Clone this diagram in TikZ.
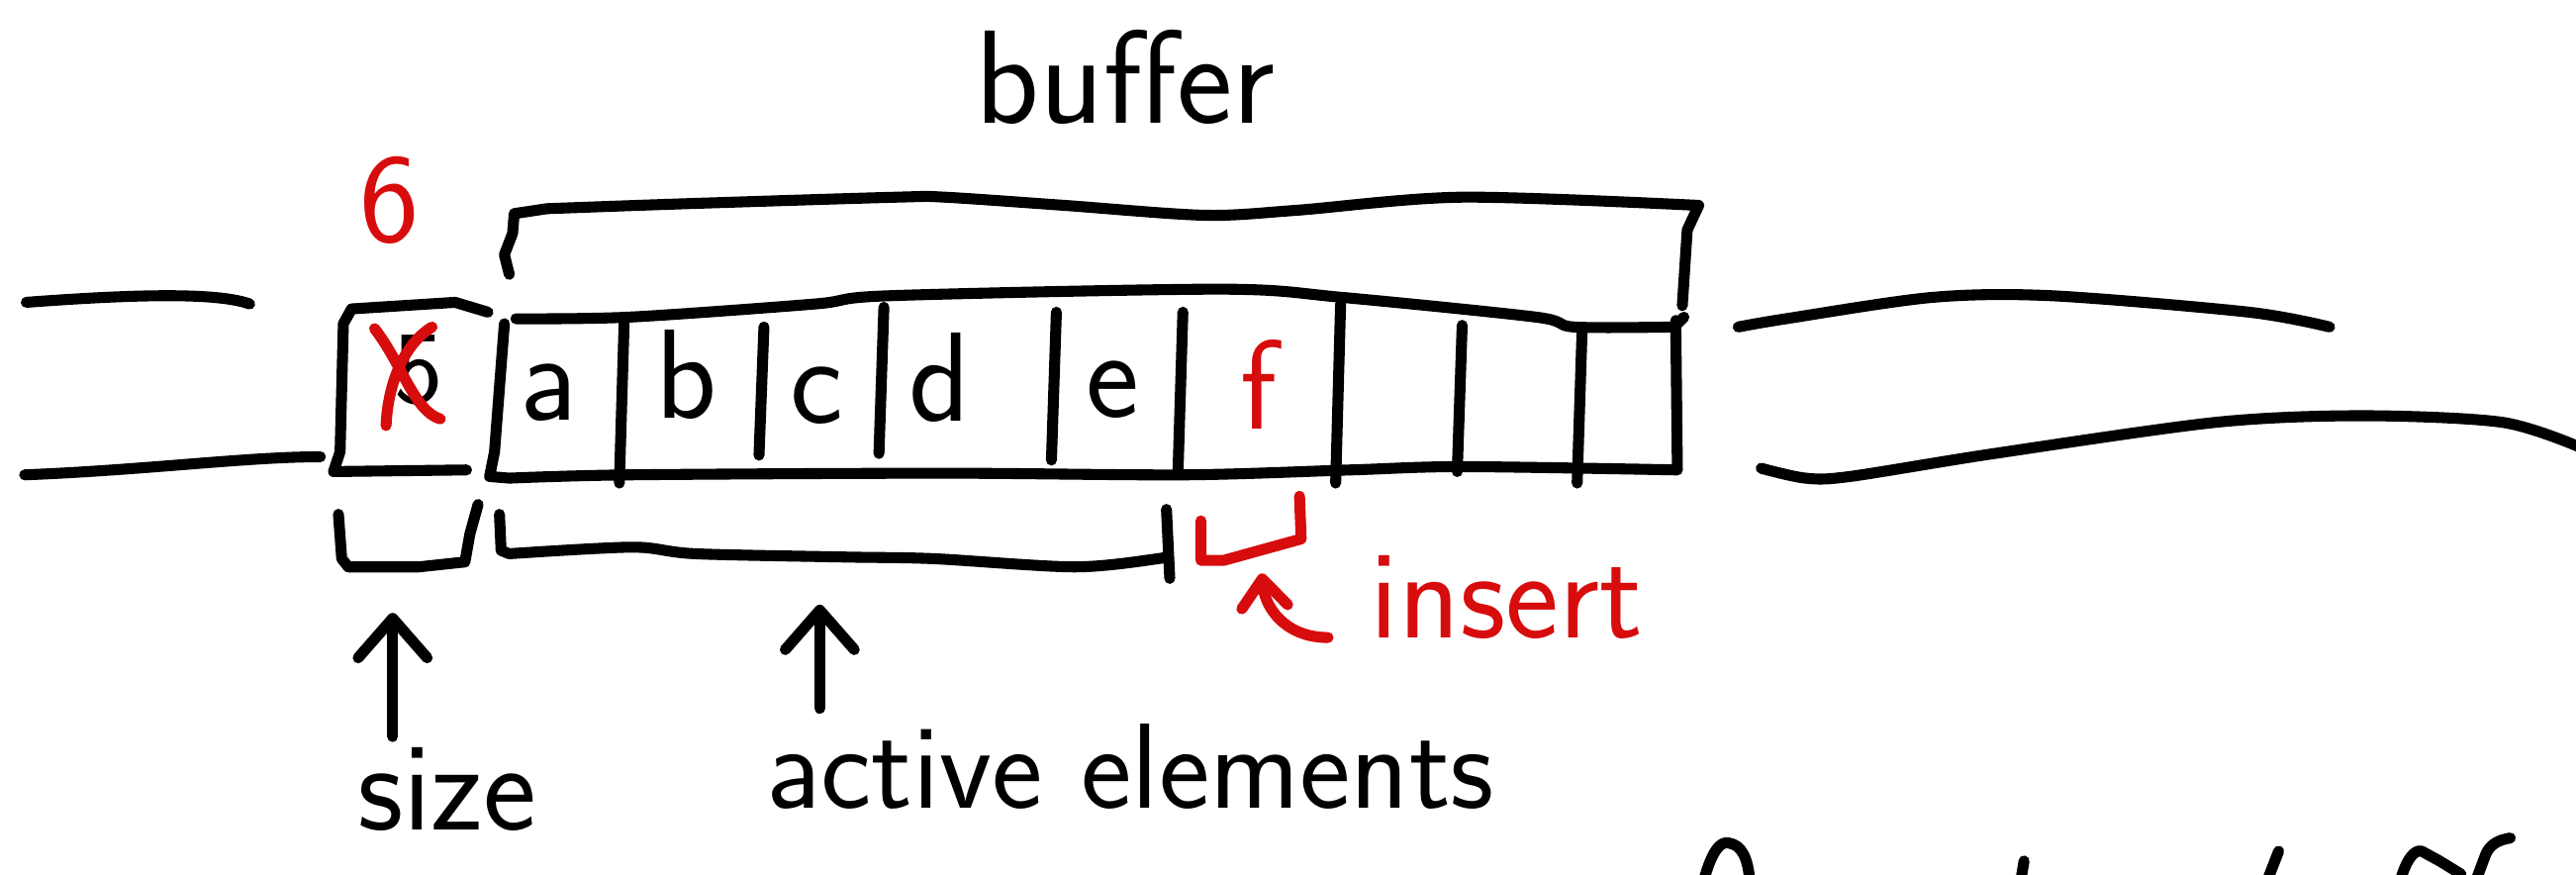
\documentclass[tikz,border=0pt]{standalone}
\usepackage{tikz}
\usetikzlibrary{arrows.meta, calc, positioning}
\definecolor{inkred}{RGB}{215,12,12}
\tikzset{
  pen/.style={line width=1.9pt, line cap=round, line join=round},
  redpen/.style={pen, draw=inkred},
  hand/.style={font=\sffamily\fontsize{#1}{#1}\selectfont, inner sep=0pt},
  hand/.default=22,
  barb/.style={-{Straight Barb[round, length=2.4mm, width=4.2mm]}},
  smallbarb/.style={-{Straight Barb[round, length=1.7mm, width=2.8mm]}},
}

\begin{document}
\begin{tikzpicture}[x=1cm, y=-1cm]
  \useasboundingbox (0,0) rectangle (15.68,5.32);

  % walls around the buffer
  \draw[pen] (0.16,1.84) .. controls (0.7,1.80) and (1.3,1.77) .. (1.52,1.85);
  \draw[pen] (0.15,2.89) .. controls (0.9,2.86) and (1.5,2.78) .. (1.95,2.78);
  \draw[pen] plot[smooth] coordinates {(10.58,1.99) (10.87,1.94) (11.76,1.81) (12.49,1.80) (13.69,1.90) (14.18,1.99)};
  \draw[pen] plot[smooth] coordinates {(10.72,2.85) (10.99,2.91) (11.26,2.90) (12.14,2.76) (13.49,2.57) (14.38,2.53) (15.23,2.57) (15.70,2.72)};

  % size cell
  \draw[pen] (2.97,1.90) -- (2.77,1.84) -- (2.14,1.88) -- (2.09,1.97) -- (2.07,2.75) -- (2.03,2.87) -- (2.84,2.86);
  \node[hand=18] (oldsize) at (2.55,2.25) {5};
  \draw[redpen] (2.28,2.00) .. controls (2.45,2.22) and (2.52,2.50) .. (2.68,2.55);
  \draw[redpen] (2.63,1.99) .. controls (2.45,2.10) and (2.36,2.35) .. (2.35,2.59);
  \node[hand, text=inkred] (newsize) at (2.37,1.22) {6};

  % the array
  \draw[pen] plot[smooth] coordinates {(3.14,1.94) (3.83,1.93) (4.96,1.85) (5.41,1.80) (7.44,1.76) (8.17,1.81) (9.35,1.93) (9.58,1.99) (10.19,1.99)} -- (10.25,1.93);
  \draw[pen] (3.07,1.97) -- (3.01,2.75) -- (2.98,2.90) -- plot[smooth] coordinates {(3.10,2.91) (3.83,2.89) (5.75,2.88) (7.21,2.89) (8.22,2.86) (8.90,2.84) (10.21,2.86)} -- (10.20,1.95);
  \foreach \x/\t/\b in {3.80/1.93/2.94, 4.65/1.99/2.77, 5.38/1.87/2.76, 6.43/1.90/2.80,
                        7.20/1.90/2.88, 8.16/1.85/2.94, 8.90/1.98/2.87, 9.63/2.01/2.94}
    \draw[pen] (\x,\t) -- (\x-0.03,\b);
  \foreach \c/\x/\y in {a/3.34/2.39, b/4.18/2.28, c/4.97/2.41, d/5.72/2.30, e/6.77/2.37}
    \node[hand] (cell-\c) at (\x,\y) {\c};
  \node[hand, text=inkred] (cell-f) at (7.66,2.34) {f};

  % buffer bracket
  \draw[pen] (3.10,1.67) -- (3.07,1.55) -- (3.12,1.42) -- (3.13,1.30)
    -- plot[smooth] coordinates {(3.33,1.27) (4.17,1.24) (5.46,1.20) (5.75,1.20) (6.48,1.25) (7.33,1.31) (7.89,1.28) (8.90,1.20) (10.34,1.25)}
    -- (10.27,1.40) -- (10.24,1.86);
  \node[hand=23, anchor=base] (buf) at (6.85,0.75) {buffer};

  % brackets below
  \draw[pen] (2.06,3.13) -- (2.08,3.40) -- (2.12,3.45) -- (2.55,3.45) -- (2.83,3.42) -- (2.86,3.25) -- (2.91,3.07);
  \draw[pen] (3.04,3.13) -- (3.05,3.35) -- plot[smooth] coordinates {(3.10,3.37) (3.85,3.33) (4.23,3.37) (5.14,3.39) (5.68,3.40) (6.54,3.45) (7.05,3.40) (7.10,3.38)};
  \draw[pen] (7.10,3.10) -- (7.12,3.52);
  \draw[redpen] (7.31,3.17) -- (7.31,3.41) -- (7.45,3.41) -- (7.92,3.28) -- (7.91,3.02);

  % labels and arrows
  \node[hand, anchor=base] (size) at (2.72,5.05) {size};
  \coordinate (sizetip) at (2.39,3.73);
  \draw[pen, barb, shorten <=0.6mm] (size.north -| sizetip) -- (sizetip);

  \node[hand=21, anchor=base] (active) at (6.88,4.92) {active elements};
  \coordinate (activetip) at (4.99,3.68);
  \draw[pen, barb, shorten <=0.9mm] (active.north -| activetip) -- (activetip);

  \node[hand=22, anchor=base, text=inkred] (insert) at (9.17,3.88) {insert};
  \coordinate (inserttip) at (7.68,3.49);
  \draw[redpen, smallbarb] ([xshift=-2.5mm]insert.base west) .. controls +(-0.25,0) and +(0.02,0.22) .. (inserttip);

  % cut-off writing at the bottom edge
  \draw[pen] (10.37,5.36) .. controls (10.42,5.18) and (10.47,5.12) .. (10.52,5.13) .. controls (10.60,5.14) and (10.64,5.22) .. (10.65,5.36);
  \draw[pen] (12.32,5.24) -- (12.30,5.36);
  \draw[pen] (13.87,5.18) -- (13.80,5.36);
  \draw[pen] (14.61,5.36) .. controls (14.65,5.22) and (14.70,5.17) .. (14.74,5.18) -- (14.85,5.24) -- (14.98,5.32);
  \draw[pen] (15.07,5.36) -- (15.13,5.20) .. controls (15.16,5.13) and (15.22,5.11) .. (15.28,5.10);
\end{tikzpicture}
\end{document}
